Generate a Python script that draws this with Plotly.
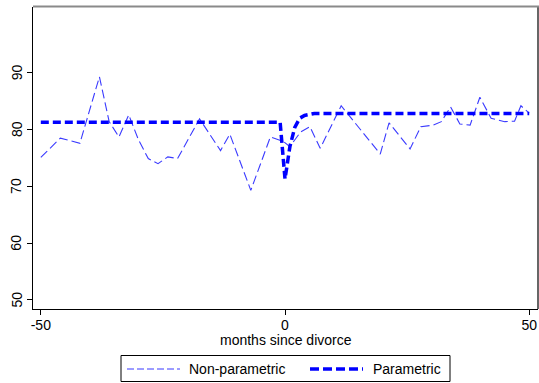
import plotly.graph_objects as go

# Non-parametric estimate
np_months = [-50, -46, -42, -38, -36, -34, -32, -30, -28, -26, -24, -22, -17.5, -13.2,
             -11.3, -7, -3, -0.3, 1, 3.2, 5.1, 7.2, 11.5, 19.5, 21.3, 25.6, 27.8, 30.4,
             32, 33.9, 35.8, 37.9, 39.9, 42.2, 45, 47, 48.3, 50]
np_values = [75.1, 78.5, 77.6, 89.3, 81.4, 78.7, 82.6, 78.2, 74.9, 74.0, 75.2, 74.9, 81.9, 76.3,
             79.2, 69.3, 78.7, 77.9, 77.0, 79.6, 80.5, 76.7, 84.2, 75.7, 81.2, 76.6, 80.5, 80.8,
             81.4, 84.0, 81.0, 80.8, 85.7, 82.0, 81.4, 81.5, 84.2, 82.9]

# Parametric estimate
p_months = [-50, -1, 0, 1, 2, 3, 4, 5, 6, 50]
p_values = [81.3, 81.3, 71.3, 77.0, 80.4, 82.0, 82.5, 82.75, 82.85, 82.85]

x_ticks = [-50, 0, 50]
x_tick_labels = ["-50", "0", "50"]
y_ticks = [50, 60, 70, 80, 90]
series_names = ["Non-parametric", "Parametric"]

FONT = "Liberation Sans, Arial, sans-serif"
NP_STYLE = dict(color="#3a3aff", width=1.1, dash="9px,4px")
P_STYLE = dict(color="#0000ff", width=3.5, dash="8px,4px")

fig = go.Figure()
fig.add_trace(go.Scatter(x=np_months, y=np_values, mode="lines",
                         name=series_names[0], line=NP_STYLE, showlegend=False))
fig.add_trace(go.Scatter(x=p_months, y=p_values, mode="lines",
                         name=series_names[1], line=P_STYLE, showlegend=False))

W, H = 539, 383
L, R, T, B = 33, 1, 7, 74
pw, ph = W - L - R, H - T - B


def px(xp):
    return (xp - L) / pw


def py(yp):
    return (H - B - yp) / ph


shapes = [
    # right border (black) and top border (grey)
    dict(type="line", xref="paper", yref="paper", x0=1, x1=1, y0=0, y1=1,
         line=dict(color="black", width=1.2)),
    dict(type="line", xref="paper", yref="paper", x0=0, x1=px(539), y0=py(6.5), y1=py(6.5),
         line=dict(color="#8a8a8a", width=2)),
    # legend box
    dict(type="rect", xref="paper", yref="paper", x0=px(121), x1=px(450),
         y0=py(381.5), y1=py(355.5), line=dict(color="black", width=1), fillcolor="white"),
    dict(type="line", xref="paper", yref="paper", x0=px(127), x1=px(180),
         y0=py(369), y1=py(369), line=dict(color=NP_STYLE["color"], width=1.1, dash="7px,3px")),
    dict(type="line", xref="paper", yref="paper", x0=px(310), x1=px(363),
         y0=py(369), y1=py(369), line=dict(color=P_STYLE["color"], width=3.5, dash="9px,4px")),
]

annotations = [
    dict(text=series_names[0], xref="paper", yref="paper", x=px(187), y=py(369),
         xanchor="left", yanchor="middle", showarrow=False, font=dict(size=14)),
    dict(text=series_names[1], xref="paper", yref="paper", x=px(371), y=py(369),
         xanchor="left", yanchor="middle", showarrow=False, font=dict(size=14)),
    dict(text="months since divorce", xref="paper", yref="paper", x=0.5, y=py(340),
         xanchor="center", yanchor="middle", showarrow=False, font=dict(size=14)),
]
for v in y_ticks:
    annotations.append(dict(text=str(v), xref="paper", yref="y", x=px(16.5), y=v,
                            xanchor="center", yanchor="middle", textangle=-90,
                            showarrow=False, font=dict(size=14)))

fig.update_layout(
    width=W, height=H,
    margin=dict(l=L, r=R, t=T, b=B, autoexpand=False),
    paper_bgcolor="white", plot_bgcolor="white",
    font=dict(family=FONT, size=14, color="black"),
    showlegend=False,
    shapes=shapes,
    annotations=annotations,
    xaxis=dict(
        range=[-51.6, 51.8], tickvals=x_ticks, ticktext=x_tick_labels,
        ticks="outside", ticklen=5, ticklabelstandoff=-2,
        tickcolor="black", showgrid=False, zeroline=False, automargin=False,
        showline=True, linecolor="black", linewidth=1,
        tickfont=dict(size=14),
    ),
    yaxis=dict(
        range=[48.4, 101.6], tickvals=y_ticks, ticks="outside", ticklen=5,
        tickcolor="black", showgrid=False, zeroline=False, automargin=False,
        showline=True, linecolor="black", linewidth=1, showticklabels=False,
    ),
)

fig.write_html("out.html", config={"displayModeBar": False},
               post_script="document.body.style.margin='0';")
